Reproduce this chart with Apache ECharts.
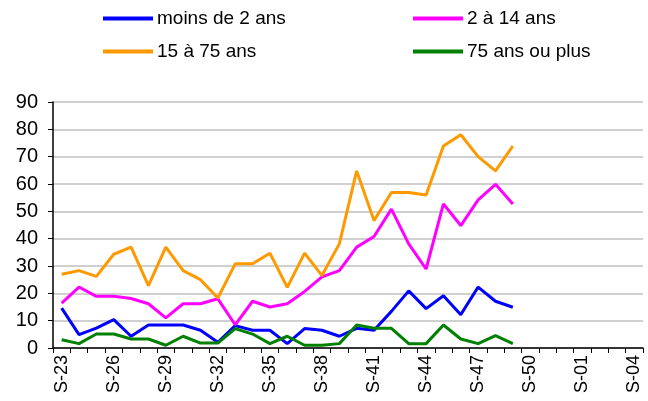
<!DOCTYPE html>
<html>
<head>
<meta charset="utf-8">
<script src="https://cdn.jsdelivr.net/npm/echarts@6/dist/echarts.min.js"></script>
<style>
    html, body { margin: 0; padding: 0; background: #fff; }
    #chart { width: 648px; height: 401px; }
</style>
</head>
<body>
<div id="chart"></div>
<script>
// semaines S-23 ... S-52 puis S-01 ... S-04
var weeks = [];
for (var w = 23; w <= 52; w++) { weeks.push('S-' + w); }
weeks.push('S-01', 'S-02', 'S-03', 'S-04');

var seriesNames = ['moins de 2 ans', '2 à 14 ans', '15 à 75 ans', '75 ans ou plus'];
var seriesColors = ['#0000ff', '#ff00ff', '#ff9900', '#008000'];

// valeurs (S-23 à S-49)
var moins2ans = [14.6, 4.9, 7.3, 10.4, 4.3, 8.4, 8.4, 8.4, 6.5, 2.1, 8.2, 6.5, 6.5, 1.6, 7.1, 6.5,
    4.3, 7.2, 6.5, 13.4, 20.9, 14.4, 19.1, 12.2, 22.3, 17.1, 14.9];
var de2a14 = [16.4, 22.3, 18.9, 18.9, 18.1, 16.2, 11.0, 16.2, 16.2, 18.0, 8.5, 17.1, 15.0, 16.2, 20.7, 26.0,
    28.3, 36.9, 40.8, 50.8, 38.1, 28.9, 52.7, 44.8, 54.2, 59.9, 52.7];
var de15a75 = [27.0, 28.3, 26.2, 34.3, 36.9, 22.8, 36.9, 28.3, 25.0, 18.3, 30.8, 30.8, 34.7, 22.2, 34.7, 26.5,
    38.1, 64.8, 46.6, 56.9, 56.9, 56.0, 73.9, 78.0, 70.0, 64.8, 73.9];
var plus75 = [3.0, 1.6, 5.1, 5.1, 3.3, 3.3, 1.0, 4.3, 1.8, 1.8, 7.1, 5.1, 1.6, 4.3, 1.0, 1.0,
    1.6, 8.4, 7.2, 7.2, 1.6, 1.6, 8.4, 3.3, 1.6, 4.5, 1.6];
var allData = [moins2ans, de2a14, de15a75, plus75];

var font = 'Liberation Sans, Arial, sans-serif';

// position des légendes (2 colonnes x 2 lignes)
var legendPos = [[103, 9], [413, 9], [103, 42], [413, 42]];
var legends = [];
var series = [];
for (var i = 0; i < seriesNames.length; i++) {
    legends.push({
        data: [seriesNames[i]],
        left: legendPos[i][0],
        top: legendPos[i][1],
        icon: 'rect',
        itemWidth: 50,
        itemHeight: 4,
        itemGap: 0,
        padding: 0,
        selectedMode: false,
        textStyle: { fontFamily: font, fontSize: 19, color: '#000', padding: [0, 0, 0, -1] }
    });
    series.push({
        name: seriesNames[i],
        type: 'line',
        data: allData[i],
        symbol: 'none',
        color: seriesColors[i],
        lineStyle: { width: 3, color: seriesColors[i] },
        animation: false
    });
}

var option = {
    animation: false,
    legend: legends,
    grid: { left: 53, right: 5, top: 102, bottom: 53 },
    xAxis: {
        type: 'category',
        data: weeks,
        boundaryGap: true,
        axisLine: { lineStyle: { color: '#000', width: 1.5 } },
        axisTick: { show: true, interval: 0, length: 5, lineStyle: { color: '#000' } },
        axisLabel: { interval: 2, rotate: 90, fontFamily: font, fontSize: 18, color: '#000', margin: 7 }
    },
    yAxis: {
        type: 'value',
        min: 0,
        max: 90,
        interval: 10,
        axisLine: { show: true, lineStyle: { color: '#000', width: 1.5 } },
        axisTick: { show: true, length: 5, lineStyle: { color: '#000' } },
        axisLabel: { fontFamily: font, fontSize: 20, color: '#000', margin: 15 },
        splitLine: { lineStyle: { color: '#c0c0c0', width: 1.5 } }
    },
    series: series
};

echarts.init(document.getElementById('chart')).setOption(option);
</script>
</body>
</html>
